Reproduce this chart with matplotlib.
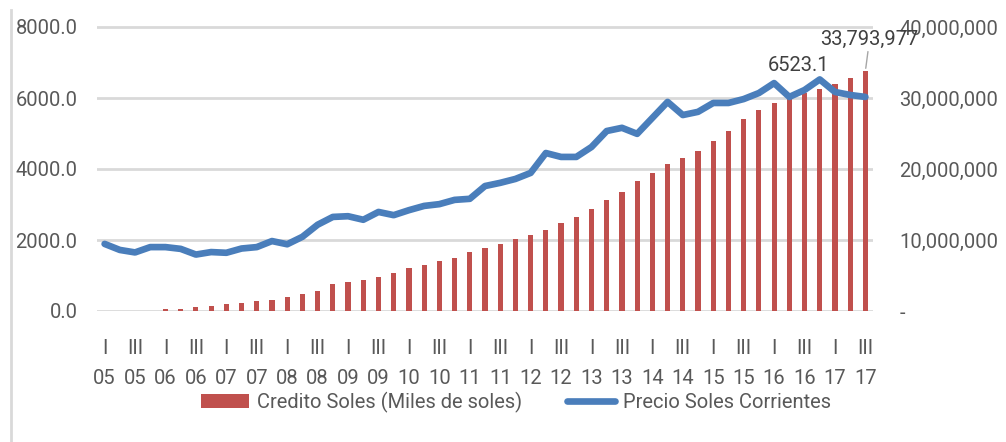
import matplotlib
matplotlib.use("Agg")
import matplotlib.pyplot as plt
from matplotlib.lines import Line2D
from matplotlib.ticker import FuncFormatter

plt.rcParams['font.family'] = ['Roboto', 'DejaVu Sans']

years = ["05", "06", "07", "08", "09", "10", "11", "12", "13", "14", "15", "16", "17"]
quarters = ["I", "II", "III", "IV"]

# precio por m2, soles corrientes (eje izquierdo)
precio = [1890, 1720, 1650, 1800, 1800, 1750, 1590, 1660, 1640, 1760,
          1800, 1970, 1880, 2090, 2430, 2650, 2670, 2570, 2790, 2700,
          2840, 2960, 3010, 3130, 3160, 3520, 3610, 3720, 3890, 4450,
          4340, 4340, 4620, 5070, 5160, 4990, 5440, 5890, 5520, 5610,
          5860, 5860, 5970, 6140, 6420, 6030, 6225, 6523.1, 6170, 6085, 6030]

# credito hipotecario en soles, miles de soles (eje derecho)
credito = [0, 0, 0, 0, 280000, 280000, 520000, 700000, 990000, 1170000,
           1400000, 1550000, 1970000, 2390000, 2800000, 3780000, 4020000, 4380000, 4820000, 5400000,
           6060000, 6430000, 7000000, 7460000, 8260000, 8870000, 9480000, 10100000, 10700000, 11400000,
           12350000, 13300000, 14400000, 15600000, 16800000, 18300000, 19500000, 20700000, 21500000, 22600000,
           24000000, 25400000, 27000000, 28300000, 29300000, 30200000, 30700000, 31200000, 32000000, 32800000,
           33793977]

periodos = [(y, q) for y in years for q in quarters][:len(precio)]
x = list(range(len(periodos)))

gray = "#595959"
blue = "#4a7ebb"
red = "#c0504d"
fs = 14.5

fig = plt.figure(figsize=(10.06, 4.42), dpi=100)
ax = fig.add_axes([97 / 1006, 1 - 311 / 442, 776 / 1006, 291.1 / 442])
ax2 = ax.twinx()

ax2.bar(x, credito, width=0.34, color=red, label="Credito Soles (Miles de soles)", zorder=2)
ax.plot(x, precio, color=blue, lw=4.8, solid_capstyle="round", solid_joinstyle="round",
        label="Precio Soles Corrientes")

ax.set_zorder(ax2.get_zorder() + 1)
ax.patch.set_visible(False)

ax.set_xlim(-0.5, len(x) - 0.5)
ax.set_ylim(0, 8200)
ax2.set_ylim(0, 41000000)

ax.set_yticks([0, 2000, 4000, 6000, 8000])
ax.yaxis.set_major_formatter(FuncFormatter(lambda v, p: f"{v:.1f}"))
ax2.set_yticks([0, 10000000, 20000000, 30000000, 40000000])
ax2.yaxis.set_major_formatter(FuncFormatter(lambda v, p: "-" if v == 0 else f"{v:,.0f}"))

ax2.set_axisbelow(True)
ax2.grid(axis="y", color="#d9d9d9", lw=2)
ax.grid(False)

ticks = x[::2]
ax.set_xticks(ticks)
ax.set_xticklabels([f"{periodos[i][1]}\n{periodos[i][0]}" for i in ticks], linespacing=1.75)

for a in (ax, ax2):
    for s in a.spines.values():
        s.set_visible(False)
    a.tick_params(length=0, labelsize=fs, labelcolor=gray)
ax.tick_params(axis="y", pad=14)
ax2.tick_params(axis="y", pad=19)
ax.tick_params(axis="x", pad=20)

# etiquetas de valor
imax = precio.index(max(precio))
ax.annotate(f"{precio[imax]}", xy=(imax, precio[imax]), xytext=(-15, 3),
            textcoords="offset points", ha="center", va="bottom",
            fontsize=fs, color="#404040")
ax2.annotate(f"{credito[-1]:,}", xy=(x[-1], credito[-1]), xytext=(3, 16),
             textcoords="offset points", ha="center", va="bottom",
             fontsize=fs, color="#404040",
             arrowprops=dict(arrowstyle="-", color="#a6a6a6", lw=1, shrinkA=0, shrinkB=2))

h1, l1 = ax2.get_legend_handles_labels()
h2, l2 = ax.get_legend_handles_labels()
fig.legend(h1 + h2, l1 + l2, loc="center", bbox_to_anchor=(0.513, 0.09), ncol=2,
           frameon=False, fontsize=fs, labelcolor=gray, handlelength=2.4,
           handleheight=0.65, handletextpad=0.4, columnspacing=2.2)

fig.add_artist(Line2D([11 / 1006, 11 / 1006], [0, 1 - 10 / 442], color="#d9d9d9", lw=2))

fig.savefig("out.png", dpi=100)
